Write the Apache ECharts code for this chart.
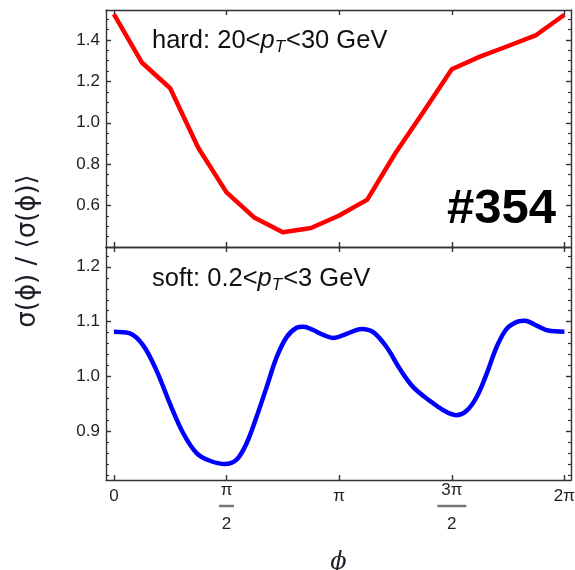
<!DOCTYPE html>
<html>
<head>
<meta charset="utf-8">
<script src="https://cdn.jsdelivr.net/npm/echarts@6/dist/echarts.min.js"></script>
<style>
  html, body { margin: 0; padding: 0; background: #ffffff; }
  #chart { width: 575px; height: 570px; }
</style>
</head>
<body>
<div id="chart"></div>
<script>
const PI = Math.PI;

// hard particles, 20 < pT < 30 GeV: azimuthal samples (rad) and normalised cross section
const hardPhi = [0, 0.393, 0.785, 1.178, 1.571, 1.963, 2.356, 2.749, 3.142,
                 3.534, 3.927, 4.320, 4.712, 5.105, 5.498, 5.890, 6.283];
const hardValues = [1.525, 1.290, 1.167, 0.878, 0.664, 0.541, 0.471, 0.492, 0.552,
                    0.629, 0.854, 1.055, 1.259, 1.320, 1.371, 1.424, 1.522];

// soft particles, 0.2 < pT < 3 GeV
const softPhi = [0, 0.223, 0.409, 0.595, 0.781, 0.967, 1.153, 1.339, 1.548, 1.711,
                 1.851, 1.990, 2.130, 2.269, 2.409, 2.548, 2.641, 2.780, 2.920, 3.059,
                 3.245, 3.455, 3.617, 3.803, 3.989, 4.175, 4.407, 4.593, 4.770, 4.919,
                 5.059, 5.198, 5.338, 5.477, 5.640, 5.733, 5.895, 6.057, 6.283];
const softValues = [1.082, 1.079, 1.057, 1.011, 0.951, 0.897, 0.861, 0.847, 0.841, 0.849,
                    0.879, 0.927, 0.981, 1.035, 1.072, 1.089, 1.091, 1.085, 1.076, 1.0705,
                    1.078, 1.087, 1.081, 1.054, 1.014, 0.981, 0.956, 0.939, 0.930, 0.938,
                    0.963, 1.005, 1.054, 1.087, 1.1005, 1.102, 1.093, 1.084, 1.082];

// axis ticks
const xTicks = [0, PI / 2, PI, 3 * PI / 2, 2 * PI];
const xTickLabels = ['0', 'π/2', 'π', '3π/2', '2π'];
const hardMajorTicks = [0.6, 0.8, 1.0, 1.2, 1.4];
const hardMinorTicks = [0.45, 0.5, 0.55, 0.65, 0.7, 0.75, 0.85, 0.9, 0.95, 1.05, 1.1, 1.15,
                        1.25, 1.3, 1.35, 1.45, 1.5];
const softMajorTicks = [0.9, 1.0, 1.1, 1.2];
const softMinorTicks = [0.82, 0.84, 0.86, 0.88, 0.92, 0.94, 0.96, 0.98, 1.02, 1.04, 1.06,
                        1.08, 1.12, 1.14, 1.16, 1.18, 1.22];

const hardRange = [0.40, 1.545];
const softRange = [0.812, 1.236];
const phiRange = [-0.11, 6.375];

const FONT = '"Liberation Sans", Arial, Helvetica, sans-serif';
const FRAME = '#333333';
const TEXT = '#1e1e28';

const chart = echarts.init(document.getElementById('chart'), null, { renderer: 'canvas' });

function xLabel(v) {
  let best = 0;
  for (let i = 1; i < xTicks.length; i++) {
    if (Math.abs(xTicks[i] - v) < Math.abs(xTicks[best] - v)) best = i;
  }
  const s = xTickLabels[best];
  if (s.indexOf('/') >= 0) {
    const [num, den] = s.split('/');
    const bar = num.length > 1 ? 'b2' : 'b1';
    return '{n|' + num + '}\n{' + bar + '|\u00a0}\n{d|' + den + '}';
  }
  return '{w|' + s + '}';
}

function xAxisDef(grid, position, labels) {
  return {
    type: 'value', gridIndex: grid, position: position,
    min: phiRange[0], max: phiRange[1],
    axisLine: { show: true, onZero: false, lineStyle: { color: FRAME, width: 1.4 } },
    axisTick: { show: true, inside: true, length: 5, customValues: xTicks,
                lineStyle: { color: FRAME, width: 1.4 } },
    splitLine: { show: false },
    axisLabel: labels ? {
      show: true, customValues: xTicks, margin: 3, formatter: xLabel,
      fontFamily: FONT, color: TEXT,
      rich: {
        w: { fontSize: 17, lineHeight: 26, fontFamily: FONT, color: TEXT },
        n: { fontSize: 17, lineHeight: 15, fontFamily: FONT, color: TEXT },
        d: { fontSize: 17, lineHeight: 21, fontFamily: FONT, color: TEXT },
        b1: { fontSize: 4, width: 15, height: 2.5, lineHeight: 16, backgroundColor: '#777' },
        b2: { fontSize: 4, width: 29, height: 2.5, lineHeight: 16, backgroundColor: '#777' }
      }
    } : { show: false }
  };
}

function yAxisDefs(grid, range, major, minor, withLabels) {
  const common = {
    type: 'value', gridIndex: grid, min: range[0], max: range[1],
    splitLine: { show: false }
  };
  const list = [];
  ['left', 'right'].forEach(function (pos) {
    list.push(Object.assign({}, common, {
      position: pos,
      axisLine: { show: true, onZero: false, lineStyle: { color: FRAME, width: 1.4 } },
      axisTick: { show: true, inside: true, length: 5, customValues: major,
                  lineStyle: { color: FRAME, width: 1.4 } },
      axisLabel: (pos === 'left' && withLabels) ? {
        show: true, customValues: major, margin: 6, fontSize: 17,
        fontFamily: FONT, color: TEXT,
        formatter: function (v) { return v.toFixed(1); }
      } : { show: false }
    }));
    list.push(Object.assign({}, common, {
      position: pos,
      axisLine: { show: false, onZero: false },
      axisTick: { show: true, inside: true, length: 3, customValues: minor,
                  lineStyle: { color: FRAME, width: 1.2 } },
      axisLabel: { show: false }
    }));
  });
  return list;
}

function pairs(xs, ys) {
  return xs.map(function (x, i) { return [x, ys[i]]; });
}

const option = {
  backgroundColor: '#ffffff',
  animation: false,
  grid: [
    { left: 106, top: 10, width: 465, height: 237, outerBoundsMode: 'none', containLabel: false },
    { left: 106, top: 247, width: 465, height: 233, outerBoundsMode: 'none', containLabel: false }
  ],
  xAxis: [
    xAxisDef(0, 'bottom', false),
    xAxisDef(0, 'top', false),
    Object.assign(xAxisDef(1, 'bottom', true), {
      name: 'ϕ', nameLocation: 'middle', nameGap: 71,
      nameTextStyle: { fontSize: 24, fontStyle: 'italic', fontFamily: '"DejaVu Serif", serif', color: TEXT }
    }),
    xAxisDef(1, 'top', false)
  ],
  yAxis: yAxisDefs(0, hardRange, hardMajorTicks, hardMinorTicks, true)
    .concat(yAxisDefs(1, softRange, softMajorTicks, softMinorTicks, true)),
  series: [
    {
      name: 'hard', type: 'line', xAxisIndex: 0, yAxisIndex: 0,
      data: pairs(hardPhi, hardValues), showSymbol: false, smooth: false,
      lineStyle: { color: '#ff0000', width: 4.5, join: 'round' }
    },
    {
      name: 'soft', type: 'line', xAxisIndex: 2, yAxisIndex: 4,
      data: pairs(softPhi, softValues), showSymbol: false, smooth: 0.35,
      lineStyle: { color: '#0000ff', width: 4.5 }
    }
  ],
  graphic: [
    {
      type: 'text', x: 152, y: 41,
      style: {
        text: '{r|hard: 20<}{i|p}{s|T}{r|<30 GeV}',
        verticalAlign: 'middle', align: 'left',
        rich: {
          r: { fontSize: 25.5, fontFamily: FONT, fill: '#111', lineHeight: 30 },
          i: { fontSize: 25.5, fontFamily: FONT, fontStyle: 'italic', fill: '#111', lineHeight: 30 },
          s: { fontSize: 17, fontFamily: FONT, fontStyle: 'italic', fill: '#111', lineHeight: 30,
               verticalAlign: 'bottom', padding: [0, 1, 0, 0] }
        }
      }
    },
    {
      type: 'text', x: 152, y: 279,
      style: {
        text: '{r|soft: 0.2<}{i|p}{s|T}{r|<3 GeV}',
        verticalAlign: 'middle', align: 'left',
        rich: {
          r: { fontSize: 25.5, fontFamily: FONT, fill: '#111', lineHeight: 30 },
          i: { fontSize: 25.5, fontFamily: FONT, fontStyle: 'italic', fill: '#111', lineHeight: 30 },
          s: { fontSize: 17, fontFamily: FONT, fontStyle: 'italic', fill: '#111', lineHeight: 30,
               verticalAlign: 'bottom', padding: [0, 1, 0, 0] }
        }
      }
    },
    {
      type: 'text', x: 556, y: 209,
      style: {
        text: '#354', align: 'right', verticalAlign: 'middle',
        fontSize: 49, fontWeight: 'bold', fontFamily: FONT, fill: '#000'
      }
    },
    {
      type: 'text', x: 28, y: 251, rotation: PI / 2,
      style: {
        text: 'σ(ϕ) / ⟨σ(ϕ)⟩', align: 'center', verticalAlign: 'middle',
        fontSize: 26, fontFamily: '"DejaVu Sans", sans-serif', fill: TEXT
      }
    }
  ]
};

chart.setOption(option);
</script>
</body>
</html>
